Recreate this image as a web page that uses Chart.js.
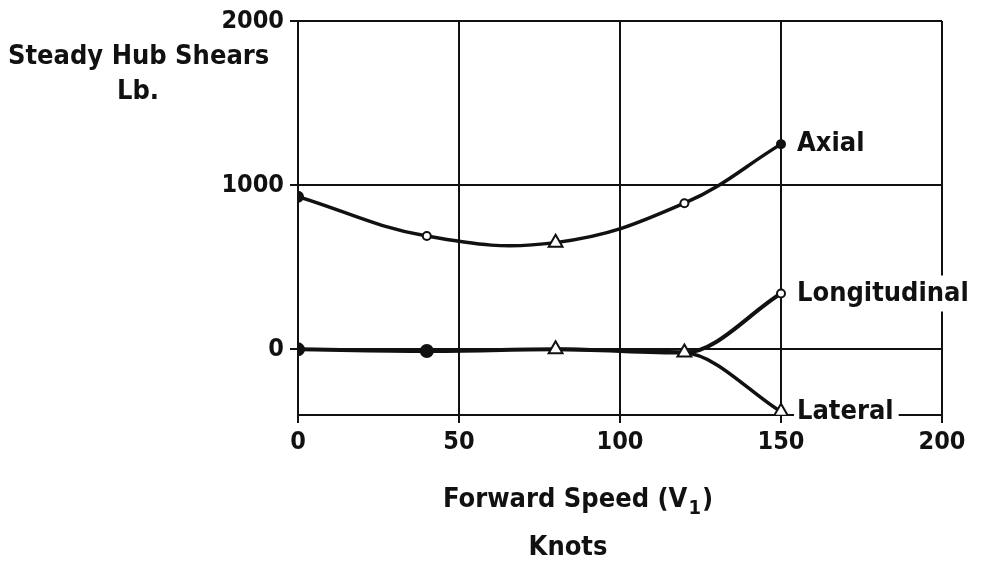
<!DOCTYPE html>
<html>
<head>
<meta charset="utf-8">
<script src="https://cdn.jsdelivr.net/npm/chart.js@4"></script>
<style>
  html, body { margin: 0; padding: 0; background: #fff; }
  #wrap { width: 984px; height: 568px; position: relative; }
</style>
</head>
<body>
<div id="wrap"><canvas id="hubChart"></canvas></div>
<script>
// Data
const speeds = [0, 40, 80, 120, 150];
const axial = [930, 690, 650, 890, 1250];
const longitudinal = [0, -10, 0, -20, 340];
const lateral = [null, null, 0, -20, -380];
const seriesNames = ['Axial', 'Longitudinal', 'Lateral'];
const xTicks = [0, 50, 100, 150, 200];
const yTicks = [-400, 0, 1000, 2000];
const yLabelTicks = [0, 1000, 2000];

const INK = '#111';
const FONT = "'Liberation Sans Narrow', 'DejaVu Sans Condensed', sans-serif";

function toPoints(vals) {
    return speeds.map((s, i) => ({ x: s, y: vals[i] }));
}

// Text that is not tied to a scale tick: axis titles and curve names
const labelPlugin = {
    id: 'labels',
    afterDatasetsDraw(chart) {
        const ctx = chart.ctx;
        ctx.save();
        ctx.fillStyle = INK;
        ctx.textBaseline = 'middle';
        ctx.font = 'bold 27px ' + FONT;

        // curve names next to the last point of each series
        chart.data.datasets.forEach((ds, i) => {
            const meta = chart.getDatasetMeta(i);
            const pt = meta.data[meta.data.length - 1];
            const text = seriesNames[i];
            const tx = pt.x + 16;
            const w = ctx.measureText(text).width;
            ctx.fillStyle = '#fff';
            ctx.fillRect(tx - 3, pt.y - 18, w + 8, 36);
            ctx.fillStyle = INK;
            ctx.textAlign = 'left';
            ctx.fillText(text, tx, pt.y);
        });

        // y title, horizontal at the top left
        ctx.textAlign = 'left';
        ctx.fillText('Steady Hub Shears', 8, 57);
        ctx.fillText('Lb.', 117, 92);

        // x title, with a hand-made subscript
        const main = 'Forward Speed (V';
        const sub = '1';
        const tail = ')';
        const wMain = ctx.measureText(main).width;
        const wTail = ctx.measureText(tail).width;
        ctx.font = 'bold 20px ' + FONT;
        const wSub = ctx.measureText(sub).width + 2;
        const x0 = 578 - (wMain + wSub + wTail) / 2;
        ctx.textAlign = 'left';
        ctx.fillText(sub, x0 + wMain + 1, 509);
        ctx.font = 'bold 27px ' + FONT;
        ctx.fillText(main, x0, 500);
        ctx.fillText(tail, x0 + wMain + wSub, 500);
        ctx.textAlign = 'center';
        ctx.fillText('Knots', 568, 548);
        ctx.restore();
    }
};

const ctx = document.getElementById('hubChart');

new Chart(ctx, {
    type: 'line',
    data: {
        datasets: [{
            label: seriesNames[0],
            data: toPoints(axial),
            borderColor: INK,
            borderWidth: 3.5,
            tension: 0.4,
            pointStyle: ['circle', 'circle', 'triangle', 'circle', 'circle'],
            pointRadius: [5, 4, 8, 4, 4],
            pointBackgroundColor: [INK, '#fff', '#fff', '#fff', INK],
            pointBorderColor: INK,
            pointBorderWidth: 2
        }, {
            label: seriesNames[1],
            data: toPoints(longitudinal),
            borderColor: INK,
            borderWidth: 4,
            cubicInterpolationMode: 'monotone',
            pointStyle: ['circle', 'circle', 'triangle', 'triangle', 'circle'],
            pointRadius: [6, 6, 8, 8, 4],
            pointBackgroundColor: [INK, INK, '#fff', '#fff', '#fff'],
            pointBorderColor: INK,
            pointBorderWidth: 2
        }, {
            label: seriesNames[2],
            data: toPoints(lateral),
            borderColor: INK,
            borderWidth: 3.5,
            cubicInterpolationMode: 'monotone',
            spanGaps: false,
            pointStyle: 'triangle',
            pointRadius: [0, 0, 0, 0, 8],
            pointBackgroundColor: '#fff',
            pointBorderColor: INK,
            pointBorderWidth: 2
        }]
    },
    options: {
        responsive: true,
        maintainAspectRatio: false,
        animation: false,
        layout: {
            padding: { left: 0, top: 20, right: 42, bottom: 0 }
        },
        plugins: {
            legend: { display: false },
            tooltip: { enabled: false }
        },
        scales: {
            x: {
                type: 'linear',
                min: 0,
                max: 200,
                afterBuildTicks: scale => {
                    scale.ticks = xTicks.map(v => ({ value: v }));
                },
                afterFit: scale => {
                    scale.height = 153;
                },
                grid: {
                    color: INK,
                    lineWidth: 2,
                    tickLength: 8
                },
                border: { color: INK, width: 2 },
                ticks: {
                    color: INK,
                    padding: 4,
                    maxRotation: 0,
                    font: { size: 25, weight: 'bold', family: FONT }
                }
            },
            y: {
                type: 'linear',
                min: -400,
                max: 2000,
                afterBuildTicks: scale => {
                    scale.ticks = yTicks.map(v => ({ value: v }));
                },
                afterFit: scale => {
                    scale.width = 298;
                },
                grid: {
                    color: INK,
                    lineWidth: 2,
                    tickLength: 8,
                    tickColor: c => (c.tick && c.tick.value === -400 ? 'rgba(0,0,0,0)' : INK)
                },
                border: { color: INK, width: 2 },
                ticks: {
                    color: INK,
                    padding: 6,
                    font: { size: 25, weight: 'bold', family: FONT },
                    callback: v => (yLabelTicks.includes(v) ? String(v) : '')
                }
            }
        }
    },
    plugins: [labelPlugin]
});
</script>
</body>
</html>
